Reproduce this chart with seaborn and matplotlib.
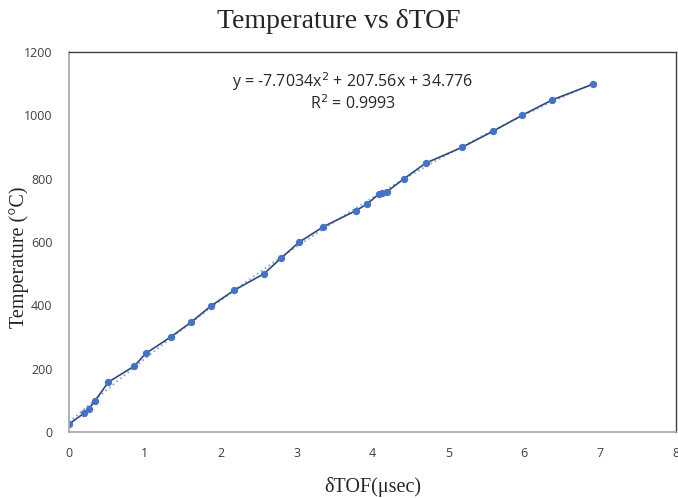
import numpy as np
import pandas as pd
import matplotlib
matplotlib.use("Agg")
import matplotlib.pyplot as plt
import seaborn as sns

# data
dtof_usec = [0.00, 0.20, 0.26, 0.34, 0.52, 0.86, 1.01, 1.34, 1.61, 1.87,
             2.18, 2.57, 2.79, 3.03, 3.35, 3.78, 3.93, 4.08, 4.12, 4.19,
             4.41, 4.70, 5.18, 5.59, 5.97, 6.37, 6.90]
temperature_c = [25, 60, 73, 98, 158, 208, 248, 300, 347, 398,
                 448, 500, 548, 599, 648, 699, 720, 751, 754, 759,
                 799, 849, 899, 950, 1000, 1049, 1098]
x_ticks = [0, 1, 2, 3, 4, 5, 6, 7, 8]
y_ticks = [0, 200, 400, 600, 800, 1000, 1200]
equation_text = "y = -7.7034x$^2$ + 207.56x + 34.776\nR$^2$ = 0.9993"

df = pd.DataFrame({"dtof": dtof_usec, "temp": temperature_c})

sns.set_style("white")
plt.rcParams["font.family"] = ["Open Sans", "DejaVu Sans"]
serif = ["Liberation Serif", "DejaVu Serif"]

fig = plt.figure(figsize=(6.78, 4.98), dpi=100)
ax = fig.add_axes([0.1018, 0.1325, 0.8952, 0.763])

# polynomial trendline (order 2), dotted light blue
sns.regplot(data=df, x="dtof", y="temp", order=2, ci=None, scatter=False,
            ax=ax, line_kws={"color": "#8FAADC", "linestyle": ":", "linewidth": 1.3})

sns.lineplot(data=df, x="dtof", y="temp", ax=ax, color="#2F4A7A", linewidth=1.2,
             marker="o", markersize=4.5, markerfacecolor="#4472C4",
             markeredgecolor="#4472C4", sort=False)

ax.set_xlim(0, 8)
ax.set_ylim(0, 1200)
ax.set_xticks(x_ticks)
ax.set_yticks(y_ticks)
ax.tick_params(axis="both", labelsize=9, colors="#404040", length=0)
ax.tick_params(axis="x", pad=11)
ax.tick_params(axis="y", pad=12)
for side in ["left", "bottom"]:
    ax.spines[side].set_color("#A6A6A6")
    ax.spines[side].set_linewidth(1.2)
for side in ["top", "right"]:
    ax.spines[side].set_color("#404040")
    ax.spines[side].set_linewidth(1.0)

ax.set_xlabel("δTOF(μsec)", family=serif, fontsize=14.5, color="#262626")
ax.set_ylabel("Temperature (°C)", family=serif, fontsize=14.5, color="#262626")
ax.xaxis.set_label_coords(0.5, -0.118)
ax.yaxis.set_label_coords(-0.066, 0.46)
fig.suptitle("Temperature vs δTOF", family=serif, fontsize=20, color="#262626",
             y=0.982)

ax.text(3.74, 1074, equation_text, ha="center", va="center", fontsize=11.5,
        color="#262626", linespacing=1.1)

fig.savefig("out.png", dpi=100)
